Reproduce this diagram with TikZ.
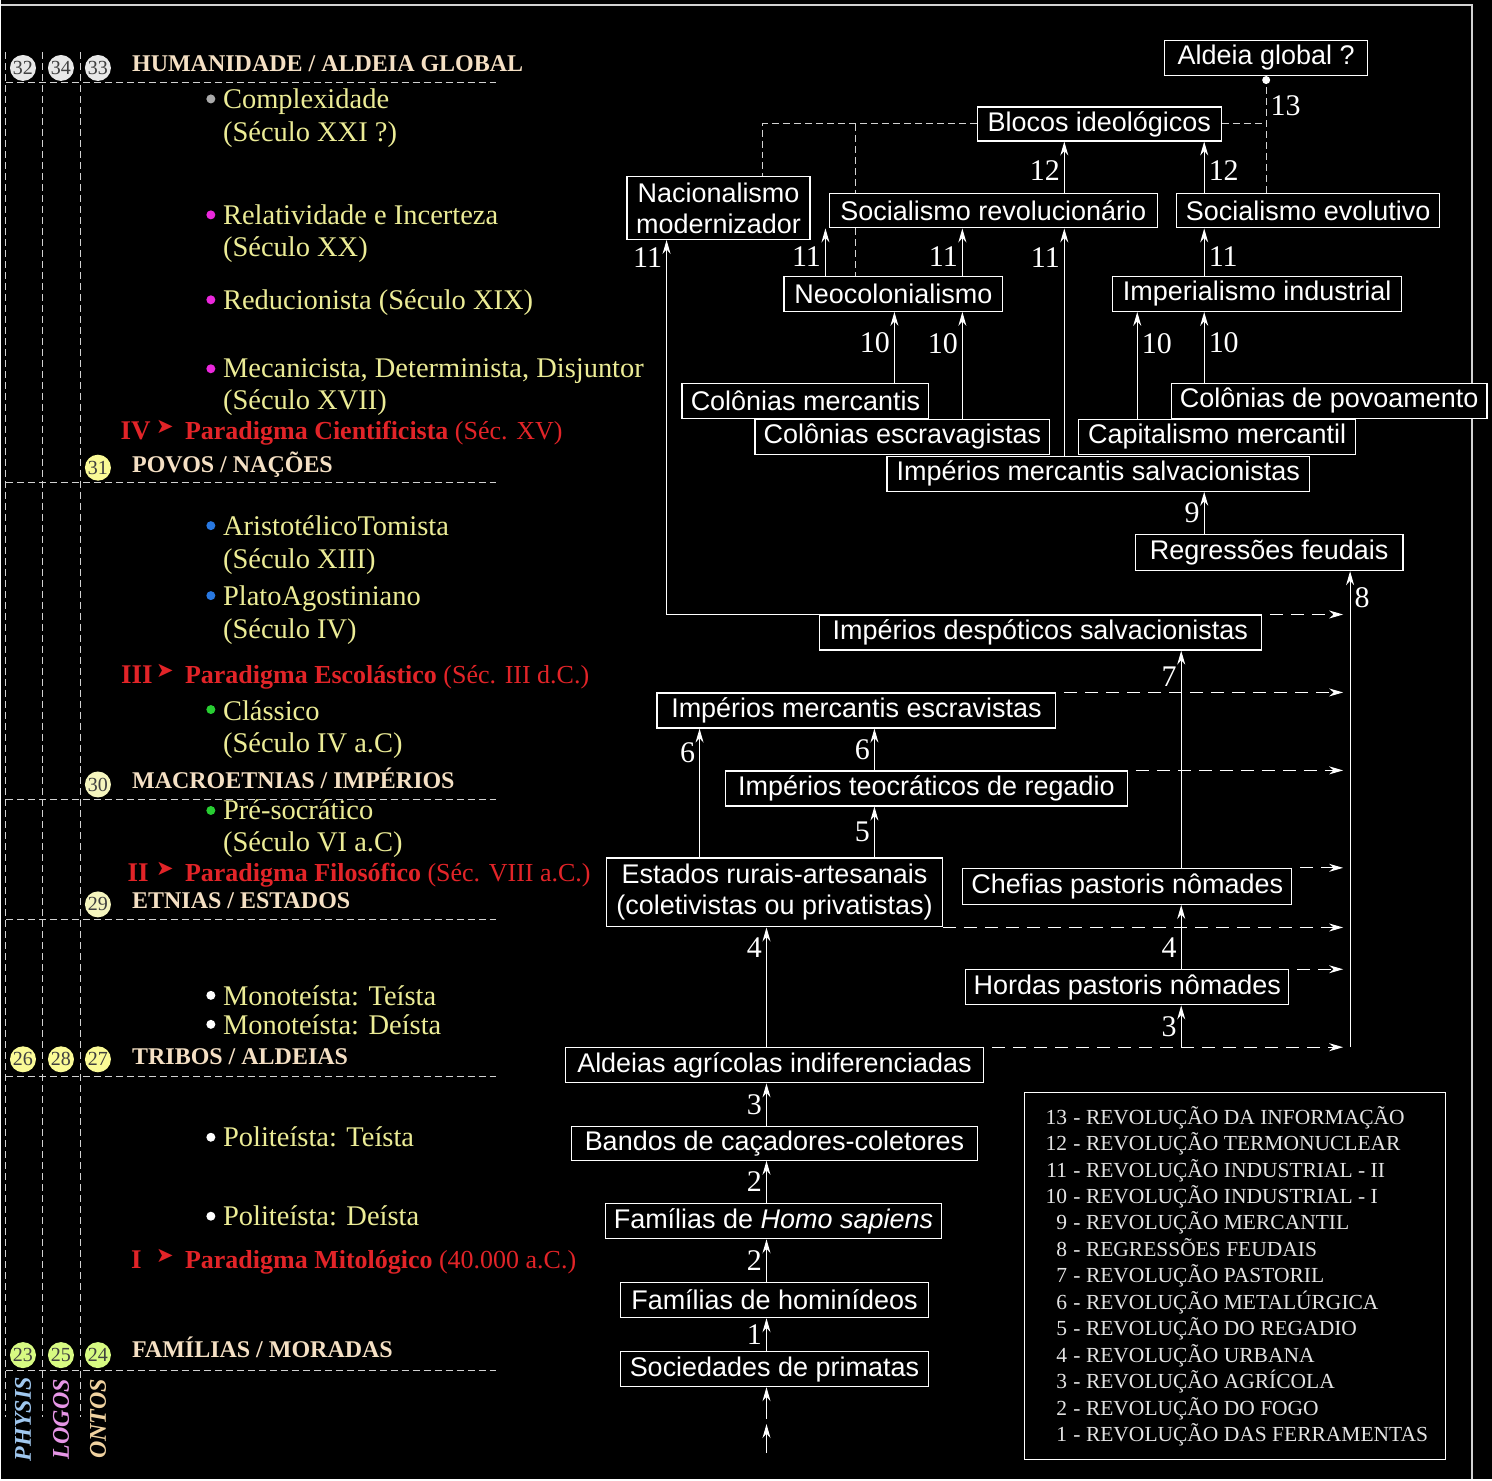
\documentclass[tikz,border=0pt]{standalone}
\usepackage{fontspec}
\setmainfont{Liberation Serif}
\setsansfont{Liberation Sans}
\newfontfamily\setafont{DejaVu Sans}
\usetikzlibrary{arrows.meta}

\definecolor{linha}{RGB}{210,210,210}
\definecolor{titulo}{RGB}{245,224,196}
\definecolor{item}{RGB}{236,236,150}
\definecolor{paradigma}{RGB}{226,36,40}
\definecolor{cinza}{RGB}{170,170,170}
\definecolor{magenta}{RGB}{235,40,220}
\definecolor{azul}{RGB}{40,120,225}
\definecolor{verde}{RGB}{40,205,50}
\definecolor{bolabranca}{RGB}{232,232,232}
\definecolor{bolaamarela}{RGB}{250,250,150}
\definecolor{bolaclara}{RGB}{245,245,190}
\definecolor{bolaverde}{RGB}{215,250,130}
\definecolor{physis}{RGB}{160,200,240}
\definecolor{logos}{RGB}{230,150,230}
\definecolor{ontos}{RGB}{240,210,160}
\definecolor{legenda}{RGB}{228,228,228}

\begin{document}
\begin{tikzpicture}[x=1pt,y=-1pt,
    caixa/.style={draw=white,fill=black,text=white,line width=1.2pt,inner sep=1pt,
        minimum height=35pt,font=\sffamily\fontsize{27}{31}\selectfont},
    seta/.style={-{Stealth[length=14pt,width=8pt]},white,line width=1.1pt},
    tracejada/.style={seta,dash pattern=on 13pt off 8pt},
    pontilhada/.style={linha,dash pattern=on 7pt off 4pt,line width=1pt},
    guia/.style={linha,dash pattern=on 7pt off 4pt,line width=1pt},
    num/.style={text=white,inner sep=4pt,font=\fontsize{30}{30}\selectfont},
    bola/.style={circle,inner sep=0pt,minimum size=26pt,text=black!75,
        font=\fontsize{20}{20}\selectfont},
    texto/.style={anchor=base west,inner sep=0pt},
    cabeca/.style={texto,text=titulo,font=\bfseries\fontsize{24}{24}\selectfont},
    item/.style={texto,text=item,font=\fontsize{28.5}{32}\selectfont},
    marco/.style={texto,text=paradigma,font=\fontsize{26}{26}\selectfont},
    eixo/.style={rotate=90,inner sep=0pt,font=\bfseries\itshape\fontsize{24}{24}\selectfont}]

    \fill[black] (0,0) rectangle (1492,1480);
    \draw[linha,line width=2pt] (0,5) -- (1472,5) -- (1472,1480);

    % guias da coluna da esquerda
    \foreach \x in {5,42,80}
        \draw[guia] (\x,52) -- (\x,1418);
    \foreach \y in {83,483,800,920,1077,1371}
        \draw[guia] (5,\y) -- (495,\y);

    \foreach \x/\y/\cor/\n in {22/68/bolabranca/32, 60/68/bolabranca/34, 97/68/bolabranca/33,
            97/468/bolaamarela/31, 97/785/bolaclara/30, 97/905/bolaclara/29,
            22/1060/bolaamarela/26, 60/1060/bolaamarela/28, 97/1060/bolaamarela/27,
            22/1356/bolaverde/23, 60/1356/bolaverde/25, 97/1356/bolaverde/24}
        \node[bola,fill=\cor] (b\n) at (\x,\y) {\raisebox{-6pt}{\n}};

    \node[eixo,text=physis] (physis) at (22,1420) {PHYSIS};
    \node[eixo,text=logos] (logos) at (60,1420) {LOGOS};
    \node[eixo,text=ontos] (ontos) at (97,1420) {ONTOS};

    \node[cabeca] (humanidade) at (131,72) {HUMANIDADE / ALDEIA GLOBAL};
    \node[cabeca] (povos) at (131,473) {POVOS / NAÇÕES};
    \node[cabeca] (macro) at (131,789) {MACROETNIAS / IMPÉRIOS};
    \node[cabeca] (etnias) at (131,909) {ETNIAS / ESTADOS};
    \node[cabeca] (tribos) at (131,1065) {TRIBOS / ALDEIAS};
    \node[cabeca] (familias) at (131,1358) {FAMÍLIAS / MORADAS};

    \foreach \y/\cor in {99/cinza, 215/magenta, 300/magenta, 369/magenta,
            526/azul, 596/azul, 710/verde, 811/verde,
            996/white, 1025/white, 1138/white, 1217/white}
        \fill[\cor] (210,\y) circle (4.5pt);
    \foreach \y/\t in {109/Complexidade, 142/(Século XXI ?),
            225/Relatividade e Incerteza, 257/(Século XX),
            310/Reducionista (Século XIX),
            378/{Mecanicista, Determinista, Disjuntor}, 410/(Século XVII),
            536/AristotélicoTomista, 569/(Século XIII),
            606/PlatoAgostiniano, 639/(Século IV),
            721/Clássico, 753/(Século IV a.C),
            820/Pré-socrático, 852/(Século VI a.C),
            1006/Monoteísta: Teísta, 1035/Monoteísta: Deísta,
            1147/Politeísta: Teísta, 1226/Politeísta: Deísta}
        \node[item] (it\y) at (222,\y) {\t};

    % os quatro paradigmas
    \foreach \y/\r/\xr/\t in {440/IV/150/{\textbf{Paradigma Cientificista} (Séc. XV)},
            684/III/152/{\textbf{Paradigma Escolástico} (Séc. III d.C.)},
            882/II/148/{\textbf{Paradigma Filosófico} (Séc. VIII a.C.)},
            1269/I/141/{\textbf{Paradigma Mitológico} (40.000 a.C.)}}{
        \node[marco,anchor=base east,font=\bfseries\fontsize{27}{27}\selectfont] (r\r) at (\xr,\y) {\r};
        \node[marco,font=\setafont\fontsize{21}{21}\selectfont] (s\r) at (155,\y-6) {➤};
        \node[marco] (p\r) at (184,\y) {\t};
    }

    % caixas
    \node[caixa,minimum width=203pt] (global) at (1266,58) {Aldeia global ?};
    \node[caixa,minimum width=244pt,minimum height=34pt] (blocos) at (1099,124) {Blocos ideológicos};
    \node[caixa,minimum width=183pt,minimum height=63pt,align=center] (nacional) at (718,208)
        {Nacionalismo\\modernizador};
    \node[caixa,minimum width=328pt,minimum height=34pt] (socrev) at (993,211) {Socialismo revolucionário};
    \node[caixa,minimum width=263pt,minimum height=34pt] (socev) at (1308,211) {Socialismo evolutivo};
    \node[caixa,minimum width=219pt] (neocol) at (893,294) {Neocolonialismo};
    \node[caixa,minimum width=289pt] (imperial) at (1257,294) {Imperialismo industrial};
    \node[caixa,minimum width=247pt] (colmerc) at (805,401) {Colônias mercantis};
    \node[caixa,minimum width=316pt] (colpov) at (1329,401) {Colônias de povoamento};
    \node[caixa,minimum width=295pt] (colesc) at (902,437) {Colônias escravagistas};
    \node[caixa,minimum width=277pt] (capmerc) at (1217,437) {Capitalismo mercantil};
    \node[caixa,minimum width=423pt] (mercsalv) at (1098,474) {Impérios mercantis salvacionistas};
    \node[caixa,minimum width=268pt,minimum height=36pt] (feudais) at (1269,553) {Regressões feudais};
    \node[caixa,minimum width=442pt] (despot) at (1040,633) {Impérios despóticos salvacionistas};
    \node[caixa,minimum width=399pt] (escrav) at (856,711) {Impérios mercantis escravistas};
    \node[caixa,minimum width=402pt] (teocrat) at (926,789) {Impérios teocráticos de regadio};
    \node[caixa,minimum width=336pt,minimum height=69pt,align=center] (estados) at (774,893)
        {Estados rurais-artesanais\\(coletivistas ou privatistas)};
    \node[caixa,minimum width=329pt,minimum height=36pt] (chefias) at (1127,887) {Chefias pastoris nômades};
    \node[caixa,minimum width=323pt] (hordas) at (1127,988) {Hordas pastoris nômades};
    \node[caixa,minimum width=419pt] (aldeias) at (774,1066) {Aldeias agrícolas indiferenciadas};
    \node[caixa,minimum width=407pt,minimum height=34pt] (bandos) at (774,1144) {Bandos de caçadores-coletores};
    \node[caixa,minimum width=336pt] (sapiens) at (773,1222) {Famílias de \textit{Homo sapiens}};
    \node[caixa,minimum width=308pt] (homi) at (774,1301) {Famílias de hominídeos};
    \node[caixa,minimum width=308pt] (prim) at (774,1370) {Sociedades de primatas};

    % colunas das setas
    \coordinate (xtronco) at (766,0);
    \coordinate (xmetal) at (699,0);
    \coordinate (xregadio) at (874,0);
    \coordinate (xpastor) at (1181,0);
    \coordinate (xfeudal) at (1350,0);
    \coordinate (xfim) at (1343,0);
    \coordinate (xnacional) at (666,0);
    \coordinate (xneoA) at (825,0);
    \coordinate (xneoB) at (894,0);
    \coordinate (xneoC) at (962,0);
    \coordinate (xrev) at (1064,0);
    \coordinate (xcap) at (1137,0);
    \coordinate (xevol) at (1204,0);
    \coordinate (xglobal) at (1266,0);
    \coordinate (xblocoA) at (762,0);
    \coordinate (xblocoB) at (855,0);
    \coordinate (baseA) at (766,1420);
    \coordinate (baseB) at (766,1454);
    \coordinate (baseC) at (766,1425);

    % tronco principal
    \draw[seta] (baseB) -- (baseC);
    \draw[seta] (baseA) -- (prim.south -| xtronco);
    \draw[seta] (prim.north -| xtronco) -- node[num,left] {1} (homi.south -| xtronco);
    \draw[seta] (homi.north -| xtronco) -- node[num,left] {2} (sapiens.south -| xtronco);
    \draw[seta] (sapiens.north -| xtronco) -- node[num,left] {2} (bandos.south -| xtronco);
    \draw[seta] (bandos.north -| xtronco) -- node[num,left] {3} (aldeias.south -| xtronco);
    \draw[seta] (aldeias.north -| xtronco) -- node[num,left,pos=0.83] {4} (estados.south -| xtronco);
    \draw[seta] (estados.north -| xmetal) -- node[num,left,pos=0.81] {6} (escrav.south -| xmetal);
    \draw[seta] (estados.north -| xregadio) -- node[num,left] {5} (teocrat.south -| xregadio);
    \draw[seta] (teocrat.north -| xregadio) -- node[num,left] {6} (escrav.south -| xregadio);

    % ramo pastoril
    \draw[seta] (aldeias.north -| xpastor) -- node[num,left] {3} (hordas.south -| xpastor);
    \draw[seta] (hordas.north -| xpastor) -- node[num,left,pos=0.34] {4} (chefias.south -| xpastor);
    \draw[seta] (chefias.north -| xpastor) -- node[num,left,pos=0.88] {7} (despot.south -| xpastor);

    % regressoes feudais
    \foreach \no in {despot,escrav,teocrat,chefias,hordas,aldeias}
        \draw[tracejada,shorten <=8pt] (\no.north east) -- (\no.north east -| xfim);
    \draw[tracejada] (estados.south east) -- (estados.south east -| xfim);
    \draw[seta] (aldeias.north -| xfeudal) -- node[num,right,pos=0.945] {8} (feudais.south -| xfeudal);
    \draw[seta] (feudais.north -| xevol) -- node[num,left] {9} (mercsalv.south -| xevol);

    % revolucoes industriais
    \draw[seta] (colmerc.north -| xneoB) -- node[num,left,pos=0.56] {10} (neocol.south -| xneoB);
    \draw[seta] (colesc.north -| xneoC) -- node[num,left,pos=0.7] {10} (neocol.south -| xneoC);
    \draw[seta] (capmerc.north -| xcap) -- node[num,right,pos=0.7] {10} (imperial.south -| xcap);
    \draw[seta] (colpov.north -| xevol) -- node[num,right,pos=0.56] {10} (imperial.south -| xevol);
    \draw[seta] (despot.north west) -| node[num,left,pos=0.977] {11} (nacional.south -| xnacional);
    \draw[seta] (neocol.north -| xneoA) -- node[num,left,pos=0.4] {11} (socrev.south -| xneoA);
    \draw[seta] (neocol.north -| xneoC) -- node[num,left,pos=0.4] {11} (socrev.south -| xneoC);
    \draw[seta] (mercsalv.north -| xrev) -- node[num,left,pos=0.87] {11} (socrev.south -| xrev);
    \draw[seta] (imperial.north -| xevol) -- node[num,right,pos=0.4] {11} (socev.south -| xevol);
    \draw[seta] (socrev.north -| xrev) -- node[num,left,pos=0.43] {12} (blocos.south -| xrev);
    \draw[seta] (socev.north -| xevol) -- node[num,right,pos=0.43] {12} (blocos.south -| xevol);

    % blocos e aldeia global
    \draw[pontilhada] (blocos.west) -| (nacional.north -| xblocoA);
    \draw[pontilhada] (blocos.west -| xblocoB) -- (socrev.north -| xblocoB);
    \draw[pontilhada] (socrev.south -| xblocoB) -- (neocol.north -| xblocoB);
    \draw[pontilhada] (blocos.east) -- (blocos.east -| xglobal);
    \draw[pontilhada] (global.south -| xglobal) -- node[num,right,pos=0.25] {13} (socev.north -| xglobal);
    \fill[white] (global.south -| xglobal) ++(0,4) circle (4pt);

    % legenda
    \node[draw=white,line width=1pt,minimum width=421pt,minimum height=367pt,anchor=north west]
        (legenda) at (1024,1093) {};
    \foreach \n/\t [count=\i from 0] in {13/REVOLUÇÃO DA INFORMAÇÃO, 12/REVOLUÇÃO TERMONUCLEAR,
            11/REVOLUÇÃO INDUSTRIAL - II, 10/REVOLUÇÃO INDUSTRIAL - I, 9/REVOLUÇÃO MERCANTIL,
            8/REGRESSÕES FEUDAIS, 7/REVOLUÇÃO PASTORIL, 6/REVOLUÇÃO METALÚRGICA,
            5/REVOLUÇÃO DO REGADIO, 4/REVOLUÇÃO URBANA, 3/REVOLUÇÃO AGRÍCOLA,
            2/REVOLUÇÃO DO FOGO, 1/REVOLUÇÃO DAS FERRAMENTAS}{
        \node[texto,anchor=base east,text=legenda,font=\fontsize{21.5}{21.5}\selectfont]
            (ln\n) at (1067,{1125+\i*26.45}) {\n};
        \node[texto,text=legenda,font=\fontsize{21.5}{21.5}\selectfont]
            (lt\n) at (1073,{1125+\i*26.45}) {- \t};
    }
\end{tikzpicture}
\end{document}
